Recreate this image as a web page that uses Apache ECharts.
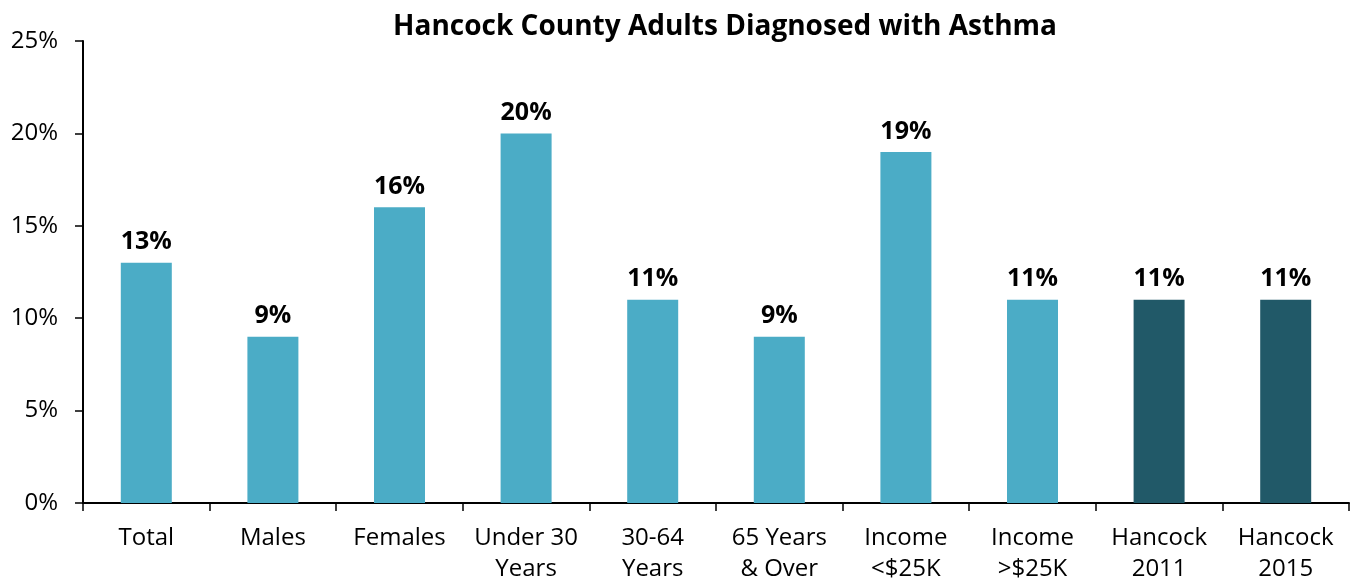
<!DOCTYPE html>
<html>
<head>
<meta charset="utf-8">
<script src="https://cdn.jsdelivr.net/npm/echarts@6/dist/echarts.min.js"></script>
<style>
html,body{margin:0;padding:0;background:#fff;}
#chart{width:1352px;height:579px;}
</style>
</head>
<body>
<div id="chart"></div>
<script>
var categories = ['Total', 'Males', 'Females', 'Under 30\nYears', '30-64\nYears', '65 Years\n& Over', 'Income\n<$25K', 'Income\n>$25K', 'Hancock\n2011', 'Hancock\n2015'];
var values = [13, 9, 16, 20, 11, 9, 19, 11, 11, 11];
var darkIndex = [8, 9];
var yTicks = [0, 5, 10, 15, 20, 25];

function buildChart(){
	var font = '"Open Sans", "Noto Sans", sans-serif';
	var data = values.map(function(v, i){
		return {
			value: v,
			itemStyle: { color: darkIndex.indexOf(i) >= 0 ? '#215968' : '#4BACC6' }
		};
	});
	var option = {
		animation: false,
		title: {
			text: 'Hancock County Adults Diagnosed with Asthma',
			left: 720,
			textAlign: 'center',
			top: 8,
			textStyle: { fontFamily: font, fontSize: 28, fontWeight: 'bold', color: '#000' }
		},
		grid: { left: 83, right: 3, top: 41, bottom: 76, containLabel: false, outerBoundsMode: 'none' },
		xAxis: {
			type: 'category',
			data: categories,
			axisLine: { lineStyle: { color: '#000', width: 2 } },
			axisTick: { show: true, length: 8, lineStyle: { color: '#000', width: 1.5 } },
			axisLabel: { fontFamily: font, fontSize: 24, color: '#000', lineHeight: 31, margin: 20, interval: 0 }
		},
		yAxis: {
			type: 'value',
			min: yTicks[0],
			max: yTicks[yTicks.length - 1],
			interval: 5,
			axisLine: { show: true, lineStyle: { color: '#000', width: 2 } },
			axisTick: { show: true, length: 8, lineStyle: { color: '#000', width: 1.5 } },
			splitLine: { show: false },
			axisLabel: { fontFamily: font, fontSize: 24, color: '#000', margin: 25, formatter: '{value}%' }
		},
		series: [{
			type: 'bar',
			data: data,
			barWidth: 51,
			label: {
				show: true,
				position: 'top',
				distance: 8,
				formatter: '{c}%',
				fontFamily: font,
				fontSize: 25,
				fontWeight: 'bold',
				color: '#000'
			}
		}]
	};
	var chart = echarts.init(document.getElementById('chart'));
	chart.setOption(option);
}
buildChart();
</script>
</body>
</html>
